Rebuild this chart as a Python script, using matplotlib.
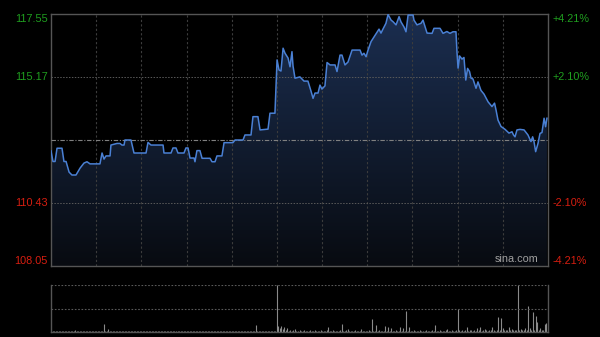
import numpy as np
import matplotlib
matplotlib.use("Agg")
import matplotlib.pyplot as plt
from matplotlib.colors import LinearSegmentedColormap

# ---- data (minutes since 09:30, trading minutes only, HK session 330 min) ----
minutes = [0, 1.3, 2.7, 4, 7.3, 8.6, 10, 12, 13.9, 16.6, 19.3, 21.9, 23.9, 25.9,
           32.5, 33.9, 35.2, 36.5, 39.2, 39.8, 43.8, 45.8, 47.1, 48.5, 49.1, 53.1,
           55.1, 63.1, 64.4, 66.4, 74.4, 75, 79.7, 81, 83, 84.3, 88.3, 89.6, 91,
           92.3, 95, 95.6, 96.9, 98.9, 100.3, 105.6, 106.9, 108.9, 110.2, 113.5,
           114.9, 120.8, 122.2, 127.5, 128.8, 132.8, 134.1, 137.4, 138.8, 144.1,
           145.4, 148.7, 150.1, 151.4, 152.7, 154.1, 155.4, 157.4, 158.7, 160,
           160.7, 162, 165.3, 168, 170.6, 172.6, 174, 175.3, 177.3, 178.6, 179.9,
           181.9, 183.3, 185.3, 188.6, 189.9, 191.9, 193.2, 195.2, 197.2, 199.9,
           205.2, 206.5, 207.8, 209.2, 210.5, 212.5, 214.5, 216.5, 217.8, 219.1,
           220.4, 222.4, 223.8, 225.8, 227.1, 229.1, 231.1, 232.4, 234.4, 235.7,
           237.1, 240.4, 241, 243, 245.7, 247, 249.7, 253, 254.3, 258.3, 260.3,
           262.9, 264.9, 266.9, 268.9, 269.6, 270.3, 271.3, 272.9, 274.2, 275.4,
           276.6, 277.9, 278.9, 280.2, 282.2, 283.5, 285.5, 287.5, 290.2, 292.8,
           294.5, 295.5, 296.8, 298.8, 301.5, 304.1, 306.1, 307.1, 308.1, 309.4,
           311.4, 314.1, 316.7, 318.7, 319.8, 320.7, 321.8, 323.4, 324.7, 326,
           327.4, 328.4, 329.3]
prices = [112.39, 111.99, 111.99, 112.49, 112.49, 111.99, 111.99, 111.59, 111.48,
          111.48, 111.74, 111.93, 111.98, 111.90, 111.90, 112.31, 112.08, 112.20,
          112.20, 112.61, 112.67, 112.67, 112.61, 112.61, 112.80, 112.80, 112.31,
          112.31, 112.71, 112.61, 112.61, 112.31, 112.31, 112.50, 112.50, 112.31,
          112.31, 112.50, 112.50, 112.12, 112.12, 111.98, 112.40, 112.40, 112.11,
          112.11, 111.98, 111.98, 112.20, 112.20, 112.70, 112.70, 112.80, 112.80,
          112.99, 112.99, 113.68, 113.68, 113.18, 113.21, 113.81, 113.81, 115.82,
          115.44, 115.40, 116.26, 116.07, 115.89, 115.56, 116.13, 115.59, 115.13,
          115.18, 115.02, 115.02, 114.65, 114.37, 114.57, 114.57, 114.87, 114.72,
          114.84, 115.72, 115.63, 115.63, 115.38, 116.00, 116.00, 115.63, 115.74,
          116.19, 116.19, 116.00, 116.07, 115.94, 116.19, 116.51, 116.69, 116.87,
          116.98, 116.83, 116.98, 117.20, 117.53, 117.32, 117.26, 117.14, 117.45,
          117.25, 117.06, 116.88, 117.51, 117.51, 117.32, 117.14, 117.20, 117.32,
          116.83, 116.82, 117.01, 117.01, 116.82, 116.89, 116.82, 116.88, 116.88,
          116.08, 115.51, 115.97, 115.85, 115.91, 115.06, 115.50, 115.38, 115.13,
          115.10, 114.75, 114.99, 114.67, 114.53, 114.24, 114.06, 114.19, 113.93,
          113.55, 113.31, 113.20, 113.06, 113.11, 112.99, 112.92, 113.18, 113.20,
          113.18, 112.99, 112.74, 112.92, 112.74, 112.36, 112.68, 113.05, 113.08,
          113.62, 113.30, 113.62]

prev_close = 112.80
y_ticks_left = [117.55, 115.17, 110.43, 108.05]
y_labels_left = ["117.55", "115.17", "110.43", "108.05"]
y_labels_right = ["+4.21%", "+2.10%", "-2.10%", "-4.21%"]

# volume per minute (relative, full panel = 100)
volume = [
    3, 2, 3, 2, 2, 3, 2, 2, 3, 2, 2, 2, 3, 2, 2, 3, 4, 2, 2, 3, 2, 2, 3, 3, 2, 2, 3, 2, 2, 3,
    2, 3, 2, 3, 2, 17, 3, 2, 6, 3, 2, 2, 3, 2, 2, 3, 2, 2, 2, 3, 2, 3, 2, 2, 3, 2, 2, 3, 2, 2,
    2, 3, 2, 2, 3, 2, 2, 2, 3, 2, 2, 3, 2, 2, 2, 3, 2, 2, 3, 2, 2, 2, 3, 2, 2, 3, 2, 2, 2, 3,
    2, 2, 3, 2, 2, 3, 2, 2, 2, 3, 2, 2, 3, 2, 2, 2, 3, 2, 2, 2, 3, 2, 2, 3, 2, 2, 2, 3, 2, 2,
    2, 3, 2, 2, 2, 3, 2, 2, 3, 2, 2, 2, 3, 2, 2, 2, 15, 2, 2, 3, 2, 2, 3, 2, 2, 3, 2, 2, 3, 2,
    100, 12, 8, 13, 6, 10, 5, 8, 3, 4, 3, 4, 6, 3, 3, 4, 3, 3, 4, 3, 3, 3, 4, 3, 3, 4, 3, 3, 3, 4,
    3, 3, 3, 4, 10, 3, 3, 4, 3, 3, 3, 3, 4, 17, 3, 3, 4, 6, 3, 3, 3, 3, 4, 3, 3, 3, 6, 3, 3, 3,
    3, 4, 3, 27, 3, 3, 15, 3, 4, 3, 3, 3, 13, 3, 11, 3, 8, 3, 3, 4, 3, 3, 10, 3, 8, 3, 45, 3, 10, 3,
    3, 4, 3, 3, 3, 4, 3, 3, 3, 4, 3, 3, 3, 4, 3, 15, 3, 3, 4, 3, 3, 3, 4, 6, 3, 3, 4, 3, 3, 4,
    49, 4, 3, 4, 3, 4, 11, 3, 4, 4, 3, 4, 3, 8, 4, 11, 3, 4, 6, 4, 3, 4, 4, 11, 4, 3, 4, 31, 4, 29,
    8, 4, 4, 5, 11, 4, 6, 4, 4, 5, 100, 4, 6, 4, 5, 9, 4, 55, 8, 5, 43, 5, 34, 21, 5, 8, 5, 4, 18, 20,
    5]

# ---- figure ----
fig = plt.figure(figsize=(6.0, 3.37), dpi=100, facecolor="black")
ax = fig.add_axes([51 / 600, 71 / 337, 497 / 600, 252 / 337], facecolor="black")
axv = fig.add_axes([51 / 600, 5 / 337, 497 / 600, 47 / 337], facecolor="black")

ymin, ymax = 108.05, 117.55
ax.set_xlim(0, 330)
ax.set_ylim(ymin, ymax)

# gradient fill under the line
cmap = LinearSegmentedColormap.from_list("fillg", ["#080b11", "#1b2e50"])
grad = np.linspace(0, 1, 256).reshape(-1, 1)
im = ax.imshow(grad, extent=[0, 330, ymin, max(prices)], origin="lower",
               aspect="auto", cmap=cmap, zorder=1)
poly = ax.fill_between(minutes, prices, ymin, color="none", lw=0)
clip = poly.get_paths()[0]
im.set_clip_path(clip, transform=ax.transData)

ax.plot(minutes, prices, color="#4a80d4", lw=1.1, zorder=4)

# grid
for m in range(30, 330, 30):
    ax.axvline(m, color="#3c3c3c", lw=0.8, ls=(0, (2, 2)), zorder=2)
for v in [115.17, 110.43]:
    ax.axhline(v, color="#5a5a5a", lw=0.7, ls=(0, (1.5, 1.5)), zorder=2)
ax.axhline(prev_close, color="#808080", lw=0.8, ls=(0, (4, 1.5, 1, 1.5)), zorder=3)

for s in ax.spines.values():
    s.set_color("#555555")
    s.set_linewidth(1.0)
ax.set_xticks([])
ax.set_yticks([])

green = "#1f9e1f"
red = "#d81e10"
font = ["Liberation Sans", "DejaVu Sans"]
trans = ax.get_yaxis_transform()
vas = ["top", "center", "center", "bottom"]
for v, lab, rlab, va in zip(y_ticks_left, y_labels_left, y_labels_right, vas):
    col = green if v > prev_close else red
    ax.text(-0.006, v, lab, transform=trans, ha="right", va=va, color=col,
            fontsize=7.8, family=font)
    ax.text(1.009, v, rlab, transform=trans, ha="left", va=va, color=col,
            fontsize=7.8, family=font)

ax.text(0.981, 0.006, "sina.com", transform=ax.transAxes, ha="right", va="bottom",
        color="#a0a0a0", fontsize=7.8, family=font, zorder=5)

# volume panel
vx = np.arange(len(volume))
axv.set_xlim(0, 330)
axv.set_ylim(0, 100)
axv.vlines(vx, 0, volume, color="#8a8a8a", lw=0.8)
axv.axhline(100, color="#5a5a5a", lw=0.8, ls=(0, (1.5, 1.5)))
axv.axhline(50, color="#5a5a5a", lw=0.8, ls=(0, (1.5, 1.5)))
axv.spines["top"].set_visible(False)
for k in ["left", "right", "bottom"]:
    axv.spines[k].set_color("#555555")
    axv.spines[k].set_linewidth(1.0)
axv.set_xticks([])
axv.set_yticks([])

fig.savefig("out.png", dpi=100, facecolor="black")
